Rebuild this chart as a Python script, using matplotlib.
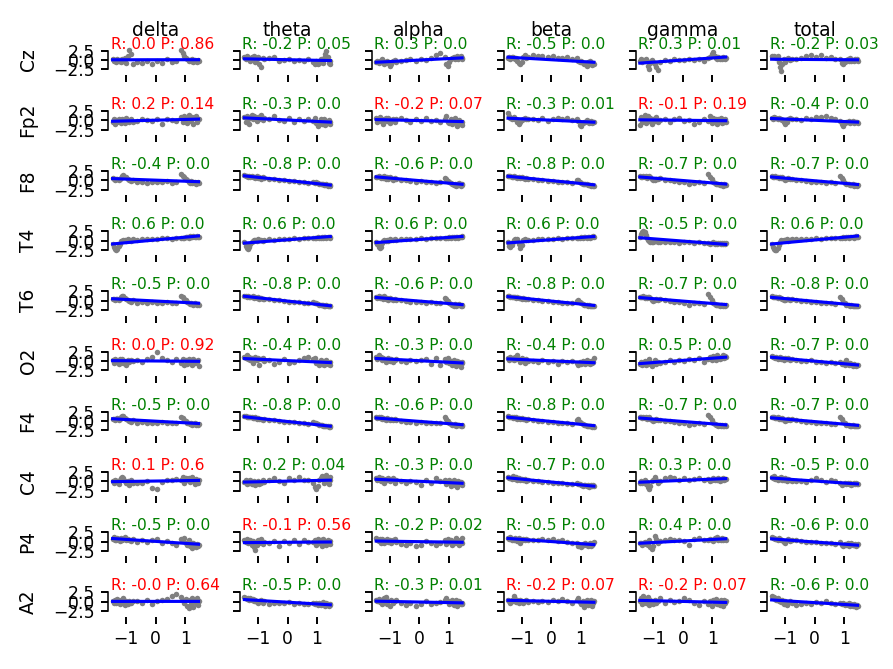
import numpy as np
import matplotlib
matplotlib.use("Agg")
import matplotlib.pyplot as plt

bands = ["delta", "theta", "alpha", "beta", "gamma", "total"]
channels = ["Cz", "Fp2", "F8", "T4", "T6", "O2", "F4", "C4", "P4", "A2"]

r_vals = [
    [0.0, -0.2, 0.3, -0.5, 0.3, -0.2],
    [0.2, -0.3, -0.2, -0.3, -0.1, -0.4],
    [-0.4, -0.8, -0.6, -0.8, -0.7, -0.7],
    [0.6, 0.6, 0.6, 0.6, -0.5, 0.6],
    [-0.5, -0.8, -0.6, -0.8, -0.7, -0.8],
    [0.0, -0.4, -0.3, -0.4, 0.5, -0.7],
    [-0.5, -0.8, -0.6, -0.8, -0.7, -0.7],
    [0.1, 0.2, -0.3, -0.7, 0.3, -0.5],
    [-0.5, -0.1, -0.2, -0.5, 0.4, -0.6],
    [-0.0, -0.5, -0.3, -0.2, -0.2, -0.6],
]
p_vals = [
    [0.86, 0.05, 0.0, 0.0, 0.01, 0.03],
    [0.14, 0.0, 0.07, 0.01, 0.19, 0.0],
    [0.0, 0.0, 0.0, 0.0, 0.0, 0.0],
    [0.0, 0.0, 0.0, 0.0, 0.0, 0.0],
    [0.0, 0.0, 0.0, 0.0, 0.0, 0.0],
    [0.92, 0.0, 0.0, 0.0, 0.0, 0.0],
    [0.0, 0.0, 0.0, 0.0, 0.0, 0.0],
    [0.6, 0.04, 0.0, 0.0, 0.0, 0.0],
    [0.0, 0.56, 0.02, 0.0, 0.0, 0.0],
    [0.64, 0.0, 0.01, 0.07, 0.07, 0.0],
]

x_vals = [-1.46, -1.42, -1.38, -1.34, -1.30, -1.26, -1.22, -1.18, -1.14, -1.10,
          -1.05, -1.00, -0.95, -0.90, -0.84, -0.78,
          -0.62, -0.45, -0.30, -0.12, 0.05, 0.22, 0.38, 0.55, 0.70,
          0.86, 0.92, 0.97, 1.02, 1.07, 1.12, 1.16, 1.20, 1.24, 1.28,
          1.32, 1.36, 1.40, 1.43, 1.45]

y_Cz = [
    [0.2,-0.3,0.1,-0.5,0.3,-0.2,0.0,-0.6,0.4,-0.3,0.5,-0.8,1.2,2.8,1.5,-1.0,
     -0.5,-0.9,-0.4,-1.0,-0.3,-0.8,0.2,-0.6,-0.3,
     2.6,1.8,1.0,0.5,0.2,-0.4,0.1,-0.3,0.3,-0.5,0.0,-0.2,-0.6,-0.1,-0.4],
    [0.8,0.3,1.0,0.2,0.6,-0.3,0.9,0.5,1.2,-0.5,0.4,0.8,-1.0,-2.0,0.6,0.3,
     0.5,0.7,-0.2,0.1,0.4,-0.3,0.0,-0.2,0.3,
     -0.6,-1.0,-0.4,-1.2,-0.8,0.2,-0.5,-0.9,0.5,1.5,2.5,0.8,-0.7,-1.1,-0.3],
    [-0.5,-0.2,-0.8,-0.3,-0.6,0.2,-0.4,-1.0,-0.5,-0.2,-0.7,-1.5,-1.2,-0.4,0.0,-0.6,
     -0.3,0.0,0.2,-0.2,0.4,0.1,0.5,1.3,1.8,
     0.8,-1.2,-1.6,-0.5,0.3,0.6,0.9,0.2,0.5,1.0,0.4,0.7,1.1,0.3,0.6],
    [0.5,0.8,0.4,0.7,0.9,0.6,0.3,0.5,-0.2,-0.8,-1.0,-0.5,0.8,1.3,0.6,0.9,
     1.4,1.2,1.0,0.8,1.1,0.6,0.5,0.9,0.3,
     0.5,-0.3,-0.6,-0.2,-0.8,-1.2,-0.9,-1.5,-0.6,-1.0,-0.4,-0.8,-1.3,-0.7,-1.0],
    [-0.2,0.3,-0.6,0.1,-0.4,0.2,-0.3,-1.5,-2.5,-0.8,0.1,-0.5,-1.0,-2.0,-2.6,-0.6,
     0.0,-0.3,0.2,-0.1,0.1,0.4,0.0,0.3,-0.2,
     0.5,0.8,1.6,2.2,1.2,0.5,0.3,0.8,0.4,0.6,0.2,0.7,0.5,0.3,0.6],
    [1.0,0.7,1.2,0.8,0.5,1.0,-0.5,-1.8,-3.0,-1.0,0.3,-0.5,0.2,0.5,0.0,0.4,
     0.3,0.6,1.2,1.4,0.9,1.3,0.5,0.8,0.4,
     0.2,-0.8,-1.2,-0.5,0.0,0.3,-0.2,0.5,-0.4,0.1,-0.3,0.2,-0.1,0.3,-0.2],
]
y_Fp2 = [
    [-0.5,0.2,-1.0,0.0,-0.6,0.3,-0.3,-0.8,0.4,-0.2,-0.7,0.5,0.0,-0.4,0.2,-0.6,
     -0.2,0.3,0.1,-0.3,0.2,-1.0,0.4,0.0,-0.2,
     0.8,-0.5,1.2,0.3,-0.8,1.5,0.5,-0.3,0.9,-1.0,0.6,1.1,-0.6,0.4,0.2],
    [0.8,-0.5,1.2,0.3,-1.0,0.6,1.5,0.2,1.0,0.5,-0.3,0.9,0.4,1.3,0.0,0.6,
     0.3,1.2,0.0,-0.2,0.5,-0.4,0.2,-0.1,0.3,
     -0.2,0.6,-0.8,-1.5,-0.4,0.3,-1.0,-0.6,0.2,-1.2,-0.3,-0.8,0.1,-1.0,-0.5],
    [0.5,-0.6,0.2,0.8,-0.3,0.4,-1.0,0.3,0.6,-0.2,0.5,-0.8,0.1,0.4,-0.4,0.2,
     0.5,0.0,-0.4,0.3,-0.2,0.6,-0.3,0.1,-0.5,
     0.2,1.2,-0.4,-0.8,0.3,-1.0,-0.2,0.5,-0.6,-1.5,-0.3,0.1,-0.8,-1.2,-0.4],
    [2.0,1.2,0.6,0.3,0.5,0.8,0.2,0.4,-0.5,-1.0,-0.6,0.1,0.3,0.5,0.2,0.4,
     0.3,0.1,0.5,-0.1,0.4,0.6,0.2,0.5,0.0,
     0.3,-0.2,-1.2,-1.5,-0.8,-0.4,-0.6,0.0,-0.3,-0.8,-0.5,-0.2,-0.7,-0.4,-0.6],
    [-1.2,0.8,-0.5,0.3,1.5,-0.8,0.2,1.0,-0.3,0.6,-1.0,0.4,-0.2,0.9,-0.6,0.1,
     0.3,-0.5,0.2,0.6,-0.2,0.0,-1.0,-0.4,0.3,
     -0.2,1.0,-0.8,0.5,-0.5,0.2,-1.0,0.4,-0.3,0.6,-0.8,0.1,-0.5,0.3,-0.4],
    [0.6,0.4,0.8,0.5,0.7,0.3,0.6,0.4,0.2,0.0,-0.6,-1.0,-0.5,0.3,0.5,0.2,
     0.4,0.1,0.5,0.3,0.9,0.8,1.0,0.6,0.2,
     -0.3,-1.0,-1.5,-0.8,-0.4,-0.6,-0.2,-0.7,-0.5,-0.3,-0.8,-0.4,-0.6,-0.5,-0.7],
]
y_F8 = [
    [0.6,0.3,0.2,0.4,0.5,0.1,0.3,0.7,1.2,1.5,1.0,0.8,0.3,0.0,-0.2,0.2,
     -0.5,-0.3,-0.6,-0.4,-0.5,-0.3,-0.2,-0.6,-0.4,
     1.6,1.2,0.8,0.3,0.0,-0.4,-0.6,-0.2,-0.8,-0.5,-0.3,-0.9,-0.6,-0.4,-0.7],
    [1.4,1.2,1.3,1.0,1.1,0.9,1.2,0.8,1.0,0.7,1.1,0.6,0.9,0.5,0.8,0.6,
     0.4,0.3,0.2,0.0,-0.1,-0.2,-0.3,-0.5,-0.6,
     -0.4,-0.6,-0.5,-0.8,-1.0,-0.9,-1.1,-1.0,-1.2,-1.3,-1.1,-1.4,-1.2,-1.3,-1.4],
    [1.0,0.9,1.2,0.8,0.6,1.0,0.7,1.3,0.5,0.9,0.3,0.8,0.6,0.2,0.7,0.4,
     0.2,0.0,-0.2,-0.3,-0.1,-0.5,-0.4,-0.6,-0.3,
     0.6,0.3,-0.2,-0.5,-0.8,-1.0,-1.2,-0.9,-1.4,-1.1,-1.3,-0.8,-1.5,-1.0,-1.2],
    [1.3,1.1,1.2,1.0,0.9,1.1,0.8,1.0,0.7,0.9,0.6,0.8,0.7,0.5,0.6,0.4,
     0.3,0.2,0.1,-0.1,-0.2,-0.3,-0.4,-0.5,-0.6,
     0.0,0.2,-0.3,-0.6,-0.9,-1.0,-1.1,-0.9,-1.2,-1.3,-1.2,-1.4,-1.3,-1.5,-1.4],
    [1.1,1.0,0.8,1.2,0.9,1.1,0.7,1.0,1.2,0.8,0.4,0.0,0.2,0.5,0.3,0.6,
     0.1,0.2,-0.1,-0.3,-0.5,-0.9,-0.6,-0.4,-0.7,
     1.6,1.0,0.3,-0.5,-0.8,-1.0,-0.9,-1.1,-1.3,-1.0,-1.2,-1.4,-1.1,-1.3,-1.2],
    [1.2,1.0,0.9,1.1,0.8,1.0,0.7,0.9,0.6,0.8,0.3,0.2,0.5,0.6,0.4,0.3,
     0.2,0.0,-0.1,-0.3,-0.4,-0.5,-0.6,-0.5,-0.8,
     1.2,0.6,0.0,-0.6,-0.9,-1.1,-1.0,-1.2,-1.3,-1.1,-1.4,-1.2,-1.3,-1.5,-1.3],
]
y_T4 = [
    [-1.0,-1.8,-2.3,-2.5,-2.2,-1.5,-0.8,-0.2,0.0,0.2,0.1,-0.1,0.3,0.2,0.0,0.3,
     0.2,0.3,0.4,0.5,0.3,0.6,0.7,0.5,0.8,
     0.6,0.8,0.7,0.9,1.0,0.8,1.1,0.9,1.0,1.2,1.0,0.9,1.1,1.0,0.9],
    [-0.5,-1.5,-2.0,-2.2,-1.8,-1.0,-0.3,0.0,0.1,0.2,0.0,0.3,0.1,0.2,0.0,0.2,
     0.3,0.2,0.4,0.5,0.4,0.6,0.5,0.7,0.6,
     0.7,0.6,0.8,0.9,0.7,0.8,1.0,0.8,0.9,1.0,0.8,0.9,1.0,0.9,0.8],
    [-0.3,-1.0,-1.8,-2.0,-1.6,-0.6,0.0,0.1,-0.1,0.2,0.0,0.3,0.1,0.2,0.3,0.2,
     0.3,0.4,0.3,0.5,0.6,0.5,0.7,0.6,0.8,
     0.6,0.8,0.7,0.9,0.8,1.0,0.9,0.8,1.0,0.9,0.8,1.0,0.9,1.1,0.9],
    [-0.5,-1.5,-1.8,-1.2,-0.4,0.2,0.3,0.1,0.4,-1.0,-2.0,-1.2,0.2,0.3,0.1,0.2,
     0.2,0.4,0.3,0.5,0.4,0.6,0.5,0.7,0.6,
     0.6,0.8,0.7,0.9,0.8,1.0,0.9,0.8,1.0,0.9,0.8,1.0,0.9,1.1,0.9],
    [1.0,1.8,2.3,2.5,2.2,1.5,0.8,0.2,-0.2,-0.4,-0.3,-0.5,-0.2,0.0,-0.4,-0.3,
     -0.3,-0.5,-0.4,-0.6,-0.5,-0.4,-0.6,-0.5,-0.7,
     -0.6,-0.8,-0.7,-0.5,-0.8,-0.6,-0.9,-0.7,-0.6,-0.8,-0.7,-0.9,-0.6,-0.8,-0.7],
    [-0.8,-1.6,-2.2,-2.5,-2.4,-2.0,-1.2,-0.3,0.1,0.0,0.2,0.1,0.3,0.0,0.2,0.3,
     0.3,0.4,0.5,0.4,0.6,0.5,0.7,0.6,0.8,
     0.7,0.8,0.9,0.8,1.0,0.9,0.8,1.0,0.9,1.0,0.8,0.9,1.1,1.0,0.9],
]
y_T6 = [
    [0.6,0.4,0.3,0.5,0.6,0.2,0.4,0.9,1.4,1.3,0.8,0.6,0.2,-0.1,-0.3,0.1,
     -0.5,-0.4,-0.6,-0.3,-0.5,-0.6,-0.4,-0.5,-0.7,
     1.3,1.0,0.5,0.1,-0.3,-0.6,-0.8,-0.5,-0.9,-1.0,-0.7,-0.9,-1.1,-0.8,-1.0],
    [1.4,1.3,1.1,1.2,1.0,1.1,0.9,1.2,0.8,1.0,0.7,0.9,0.6,0.8,0.5,0.6,
     0.4,0.2,0.1,-0.1,-0.2,-0.3,-0.4,-0.6,-0.7,
     -0.3,-0.5,-0.6,-0.9,-1.0,-1.1,-1.2,-1.0,-1.3,-1.4,-1.2,-1.5,-1.3,-1.4,-1.5],
    [1.0,0.8,1.2,0.7,0.9,1.1,0.6,1.3,0.5,0.8,0.2,0.7,0.5,0.1,0.6,0.3,
     0.1,-0.1,-0.2,-0.4,-0.2,-0.5,-0.3,-0.6,-0.5,
     0.8,0.5,0.0,-0.5,-0.8,-1.0,-1.3,-0.9,-1.4,-1.2,-1.1,-0.9,-1.5,-1.0,-1.3],
    [1.3,1.2,1.1,1.0,1.1,0.9,1.0,0.8,1.0,0.7,0.8,0.6,0.7,0.5,0.6,0.4,
     0.3,0.2,0.0,-0.1,-0.2,-0.4,-0.5,-0.6,-0.7,
     0.0,0.3,-0.3,-0.7,-0.9,-1.1,-1.0,-1.2,-1.3,-1.2,-1.4,-1.3,-1.5,-1.4,-1.5],
    [1.0,1.1,0.9,1.2,0.8,1.0,0.7,0.9,1.1,0.7,0.3,-0.1,0.2,0.4,0.3,0.5,
     0.1,0.0,-0.2,-0.3,-0.6,-1.0,-0.7,-0.5,-0.8,
     1.8,1.1,0.3,-0.5,-0.8,-1.0,-1.1,-1.2,-1.3,-1.1,-1.2,-1.4,-1.2,-1.3,-1.2],
    [1.2,1.1,1.0,0.9,1.0,0.8,0.9,0.7,0.8,0.6,0.3,0.2,0.5,0.4,0.3,0.4,
     0.2,0.0,-0.1,-0.3,-0.4,-0.6,-0.5,-0.7,-0.8,
     1.0,0.5,-0.2,-0.7,-1.0,-1.1,-1.2,-1.3,-1.2,-1.4,-1.3,-1.5,-1.4,-1.3,-1.5],
]
y_O2 = [
    [0.3,-0.5,0.6,-0.2,0.0,-0.8,0.4,-0.3,0.5,-0.6,0.1,-1.0,0.3,-0.4,0.2,-0.1,
     0.2,-0.3,0.4,1.2,2.5,0.8,0.3,-0.2,0.6,
     -0.5,0.4,-1.2,0.3,-0.8,0.5,-0.3,0.2,-1.0,0.4,-0.6,0.1,-0.4,0.3,-1.3],
    [1.2,0.8,1.5,0.5,1.0,0.3,0.9,-0.5,0.6,1.2,0.2,0.8,-1.0,0.4,0.7,0.1,
     0.2,-0.8,-0.3,0.5,-0.6,-0.2,0.3,0.9,1.2,
     0.4,0.8,-0.5,-0.2,-1.0,0.3,-0.7,-0.4,-1.2,-0.6,0.2,-0.9,-0.5,-1.0,-0.3],
    [1.0,0.5,1.5,0.8,1.2,0.3,0.9,0.6,-0.2,0.4,0.8,0.0,0.5,-0.4,0.3,0.6,
     0.0,-0.2,0.3,-0.1,0.2,0.4,-0.8,0.9,-1.0,
     0.6,-0.3,0.9,-0.6,-0.1,-1.0,0.2,-0.5,-1.3,0.0,-0.8,-0.3,-1.5,-0.6,-0.2],
    [0.8,0.3,1.2,0.5,0.7,0.2,1.0,0.4,1.5,0.6,-0.2,0.8,0.3,-0.6,0.5,0.1,
     0.0,-0.3,0.2,-0.2,0.1,-0.8,0.0,-0.4,-0.1,
     -0.5,-1.0,-0.2,-0.7,0.1,-0.4,-0.9,0.2,-0.6,-0.3,-0.8,0.0,-0.5,-0.2,0.8],
    [-0.8,-0.3,-1.2,-0.5,0.0,-1.0,-0.2,-0.7,0.4,-0.4,-1.3,-0.6,0.2,-0.9,-0.3,-0.5,
     -0.4,0.3,-0.2,0.2,-0.1,0.6,0.3,0.8,-0.3,
     0.5,1.0,0.3,1.3,0.6,0.2,1.5,0.8,0.4,1.2,0.9,1.6,0.7,1.4,1.0],
    [1.4,1.0,1.2,0.8,1.1,0.6,0.9,1.2,0.5,0.8,0.3,0.7,0.4,0.9,0.2,0.6,
     0.3,0.1,-0.1,0.2,-0.3,-0.2,-0.5,-0.4,-0.6,
     -0.3,-0.8,-0.5,-1.0,0.2,-0.7,-1.2,-0.6,-0.9,-1.3,-0.8,-1.1,-1.4,-1.0,-1.2],
]
y_F4 = [
    [0.7,0.5,0.4,0.6,0.8,0.3,0.5,1.0,1.5,1.4,0.9,0.7,0.3,0.0,-0.2,0.2,
     -0.4,-0.3,-0.6,-0.4,-0.5,-0.3,-0.4,-0.6,-0.5,
     1.2,0.9,0.4,0.0,-0.4,-0.6,-0.7,-0.5,-0.9,-0.8,-0.6,-1.0,-0.8,-0.9,-0.7],
    [1.5,1.3,1.2,1.1,1.2,1.0,1.1,0.9,0.8,1.0,0.6,0.8,0.5,0.7,0.4,0.5,
     0.3,0.2,0.0,-0.1,-0.3,-0.2,-0.5,-0.6,-0.7,
     -0.2,-0.5,-0.6,-0.8,-0.9,-1.1,-1.0,-1.2,-1.3,-1.2,-1.4,-1.3,-1.5,-1.4,-1.6],
    [1.1,0.9,1.0,0.8,1.2,0.6,0.9,0.7,0.3,0.8,0.5,0.2,0.6,0.4,0.7,0.3,
     0.1,-0.1,-0.2,-0.4,-0.3,-0.5,-0.4,-0.6,-0.5,
     1.0,0.6,0.0,-0.4,-0.7,-0.9,-1.1,-0.8,-1.2,-1.0,-1.1,-0.9,-1.3,-1.0,-1.2],
    [1.3,1.2,1.0,1.1,0.9,1.0,0.8,1.1,0.7,0.9,0.6,0.8,0.6,0.5,0.4,0.5,
     0.3,0.1,0.0,-0.2,-0.3,-0.4,-0.5,-0.6,-0.8,
     0.3,0.5,-0.1,-0.5,-0.8,-1.0,-1.1,-1.2,-1.3,-1.2,-1.4,-1.3,-1.5,-1.4,-1.5],
    [1.1,1.0,0.9,1.2,0.8,1.0,0.7,0.9,1.1,0.6,0.3,0.0,0.2,0.5,0.3,0.4,
     0.1,0.0,-0.2,-0.4,-0.6,-1.1,-0.8,-0.5,-0.7,
     1.7,1.1,0.2,-0.5,-0.8,-1.0,-1.1,-1.2,-1.0,-1.3,-1.1,-1.2,-1.3,-1.1,-1.2],
    [1.2,1.0,1.1,0.9,0.8,1.0,0.7,0.9,0.6,0.8,0.2,0.1,0.4,0.6,0.3,0.5,
     0.2,0.0,-0.2,-0.3,-0.4,-0.6,-0.5,-0.7,-0.8,
     1.1,0.6,-0.1,-0.6,-0.9,-1.1,-1.0,-1.2,-1.3,-1.1,-1.4,-1.2,-1.3,-1.4,-1.2],
]
y_C4 = [
    [0.2,-0.5,0.4,-0.2,0.0,-0.6,0.3,1.0,1.3,0.8,0.2,-0.3,0.1,-1.0,0.4,-0.4,
     -0.5,-0.3,0.1,-1.8,-2.0,-0.2,0.5,0.3,0.6,
     0.4,1.2,-0.5,0.8,0.3,1.0,-0.2,0.6,1.3,0.0,-0.6,0.7,0.2,-0.3,0.4],
    [-0.2,0.3,-0.6,0.0,-0.4,0.4,-0.8,-0.1,0.2,-1.0,-0.5,0.1,-0.7,-0.3,0.5,-0.2,
     0.3,1.0,0.2,-0.3,0.8,0.4,1.2,0.5,0.3,
     -0.5,-1.5,-2.0,-1.2,0.4,1.0,1.5,0.6,-0.3,0.8,1.8,0.2,-0.8,1.2,0.5],
    [0.8,0.4,1.3,0.6,0.2,1.0,0.5,-0.3,0.7,0.3,0.9,0.0,0.5,0.8,-0.5,0.4,
     0.2,-0.4,0.0,-0.2,-1.0,0.3,-0.5,1.0,0.2,
     0.5,-0.8,-0.2,0.3,-1.2,-0.5,0.4,-0.9,-0.3,-1.5,0.2,-0.6,-0.2,-1.0,-0.4],
    [1.2,0.8,1.0,0.6,1.5,0.9,0.7,1.1,0.5,0.8,0.4,0.6,0.3,0.7,0.2,0.5,
     0.2,0.0,-0.1,-0.2,-0.4,-0.3,-0.5,-0.7,-0.6,
     -0.5,-0.8,-0.7,-1.0,-1.2,-0.9,-1.1,-1.3,-1.0,-1.4,-1.2,-1.0,-1.3,-1.1,-1.2],
    [-0.3,0.2,-0.5,-0.1,0.3,-0.6,-0.2,-1.5,-2.0,-1.2,0.0,0.3,1.2,0.5,-0.4,0.1,
     0.8,1.3,0.9,0.4,1.0,0.3,0.6,1.0,0.5,
     0.6,0.2,0.5,0.8,0.3,0.7,0.4,0.9,0.2,0.6,0.5,0.8,0.3,0.7,0.6],
    [1.2,0.8,1.5,0.6,1.0,0.4,0.9,0.7,1.3,0.5,0.3,0.8,0.2,0.6,0.4,0.1,
     0.0,0.2,-0.1,0.5,1.0,0.3,-0.2,0.4,0.0,
     -0.4,-1.0,-0.6,-0.3,-0.8,-0.5,-0.7,-0.4,-0.9,-0.6,-0.5,-0.8,-0.4,-0.7,-0.6],
]
y_P4 = [
    [0.8,1.2,0.5,0.3,0.9,0.6,0.2,1.0,0.4,0.7,1.3,0.3,0.6,0.5,0.2,0.8,
     0.0,0.3,-0.1,0.4,0.6,-0.4,0.2,-0.5,-0.8,
     0.6,0.2,1.0,-0.3,-0.8,0.4,-1.2,-0.5,-1.8,-0.3,-1.0,-1.5,-0.6,-1.2,-0.8],
    [0.3,-0.2,0.8,-0.5,0.1,0.5,-0.8,0.2,-1.5,-2.3,-1.0,0.4,-0.3,0.6,-0.6,0.0,
     -0.5,0.1,-1.2,0.2,-0.3,0.4,-0.6,0.5,0.0,
     -0.2,0.5,-0.8,0.8,-0.4,0.3,-1.2,0.6,-0.5,0.1,-0.9,0.4,-0.2,-0.7,0.2],
    [1.0,0.5,0.2,0.8,-0.3,0.6,0.3,-0.5,0.4,0.7,0.0,0.5,-0.4,0.3,0.6,-0.1,
     -0.6,-1.0,-0.4,-1.2,-0.8,0.2,-0.5,-1.0,-0.3,
     0.3,-0.6,0.8,-0.2,0.5,-1.0,0.0,-0.5,0.9,-0.3,0.4,-0.8,0.1,-0.4,1.0],
    [1.0,0.6,1.3,0.5,0.8,0.3,1.0,0.6,0.2,0.9,-0.3,0.5,0.7,0.4,0.6,0.3,
     0.5,0.3,0.6,0.4,0.8,0.2,0.5,0.0,-0.4,
     -0.5,-1.2,-0.8,-1.5,-0.6,-1.0,-0.3,-0.9,-1.3,-0.7,-0.4,-1.1,-0.8,-0.5,-0.2],
    [-0.5,-0.3,-0.8,-0.4,0.0,-0.6,-0.2,-1.0,0.3,-1.5,-2.0,-1.2,1.5,0.8,-0.3,0.2,
     0.4,0.8,0.3,0.5,0.1,-0.8,0.6,0.9,0.4,
     0.3,0.8,0.5,0.2,0.9,0.6,1.2,0.4,0.7,0.3,1.0,0.5,0.8,0.6,0.4],
    [1.2,0.9,1.0,0.7,0.8,0.5,0.9,0.6,0.3,0.4,0.0,-0.3,0.5,0.6,0.2,0.4,
     0.3,0.1,0.0,-0.1,-0.2,-0.3,-0.4,-0.5,-0.6,
     -0.2,-0.8,-1.1,-0.6,-0.9,-0.4,-1.2,-0.7,-0.5,-1.0,-0.8,-0.6,-1.3,-0.9,-0.7],
]
y_A2 = [
    [0.3,-0.4,0.5,-0.2,0.8,0.0,-0.6,0.4,-0.3,1.0,-0.8,0.2,-0.5,0.3,-0.2,0.1,
     0.2,-0.3,0.4,-0.6,0.1,0.5,0.8,1.5,2.0,
     1.2,0.4,-0.3,0.8,-1.0,-1.8,0.5,-0.6,0.9,-1.5,0.2,-0.4,1.0,-0.8,0.3],
    [1.2,1.0,0.8,1.1,0.6,0.9,0.5,0.7,0.3,0.4,0.0,-0.3,0.2,0.6,-0.2,0.3,
     -0.5,-0.3,-0.2,-0.4,-0.1,-0.6,-0.3,-0.5,-0.7,
     -0.2,-0.6,-0.4,-0.8,-0.3,-0.9,-0.5,0.0,-0.7,-1.0,-0.4,-0.6,-1.1,-0.5,-0.8],
    [0.5,0.2,0.7,0.0,0.4,-0.6,0.3,1.0,1.3,-0.5,0.2,-1.0,0.5,-0.3,0.1,0.4,
     -0.2,-0.8,-0.4,-1.0,-0.6,0.2,-0.5,-0.3,-0.1,
     0.5,0.9,0.2,-0.5,-0.2,0.6,-0.8,-0.3,0.4,-1.0,-0.4,0.1,-0.7,-0.2,-0.6],
    [0.5,0.2,-0.3,0.6,0.3,1.5,0.8,0.0,0.4,-0.2,0.5,0.1,-0.4,0.3,0.6,0.0,
     0.2,-0.1,0.3,0.0,0.4,0.2,0.8,0.3,-0.2,
     0.5,0.9,0.0,-0.5,0.3,-1.5,-0.2,0.6,-0.8,0.1,-0.4,0.4,-1.0,-0.3,0.2],
    [0.3,1.0,-0.5,1.5,0.2,-0.3,0.8,1.2,-0.8,0.4,0.0,-0.6,0.6,-0.2,0.3,1.0,
     -0.2,0.4,0.0,0.2,1.0,0.5,-0.3,-0.8,0.2,
     -0.5,0.3,-1.0,0.5,-0.3,0.8,-0.6,0.2,-0.8,0.4,-0.2,-1.2,0.6,-0.4,0.1],
    [1.5,1.0,1.3,0.8,0.5,0.9,0.3,0.6,0.0,0.4,-0.5,0.2,-0.8,-0.3,0.1,-0.2,
     -0.8,-0.6,-0.3,-0.5,-0.1,-0.3,0.2,-0.4,-0.6,
     -0.2,-0.6,-0.3,-0.9,-0.5,-0.8,-0.4,-1.0,-0.7,-1.2,-0.6,-0.9,-1.5,-0.8,-1.0],
]

y_rows = [y_Cz, y_Fp2, y_F8, y_T4, y_T6, y_O2, y_F4, y_C4, y_P4, y_A2]

DPI = 140
fig, axes = plt.subplots(len(channels), len(bands), sharex=True, sharey=True,
                         figsize=(893 / DPI, 669 / DPI), dpi=DPI)
fig.subplots_adjust(left=0.1213, right=0.9651, top=0.9326, bottom=0.0782,
                    wspace=0.395, hspace=1.02)

x = np.array(x_vals)
for i, ch in enumerate(channels):
    for j, band in enumerate(bands):
        ax = axes[i, j]
        y = np.array(y_rows[i][j])
        ax.scatter(x, y, s=8, color="gray", linewidths=0, zorder=2)
        coef = np.polyfit(x, y, 1)
        xs = np.array([x.min(), x.max()])
        ax.plot(xs, np.polyval(coef, xs), color="blue", lw=1.6, zorder=3)
        r = r_vals[i][j]
        p = p_vals[i][j]
        col = "green" if p <= 0.05 else "red"
        ax.text(0.025, 0.88, f"R: {r} P: {p}", transform=ax.transAxes,
                color=col, fontsize=8, va="baseline", ha="left")
        ax.spines["top"].set_visible(False)
        ax.spines["right"].set_visible(False)
        ax.spines["bottom"].set_visible(False)
        ax.spines["left"].set_bounds(-2.5, 2.5)
        ax.set_yticks([-2.5, 0.0, 2.5])
        ax.set_xticks([-1, 0, 1])
        ax.tick_params(labelsize=8.8, length=3.5, width=1)
        if i == 0:
            ax.set_title(band, fontsize=9.6, pad=4.5)
        if j == 0:
            ax.set_ylabel(ch, fontsize=9.6, labelpad=8)

axes[0, 0].set_ylim(-4.0, 4.0)

fig.savefig("out.png", dpi=DPI)
